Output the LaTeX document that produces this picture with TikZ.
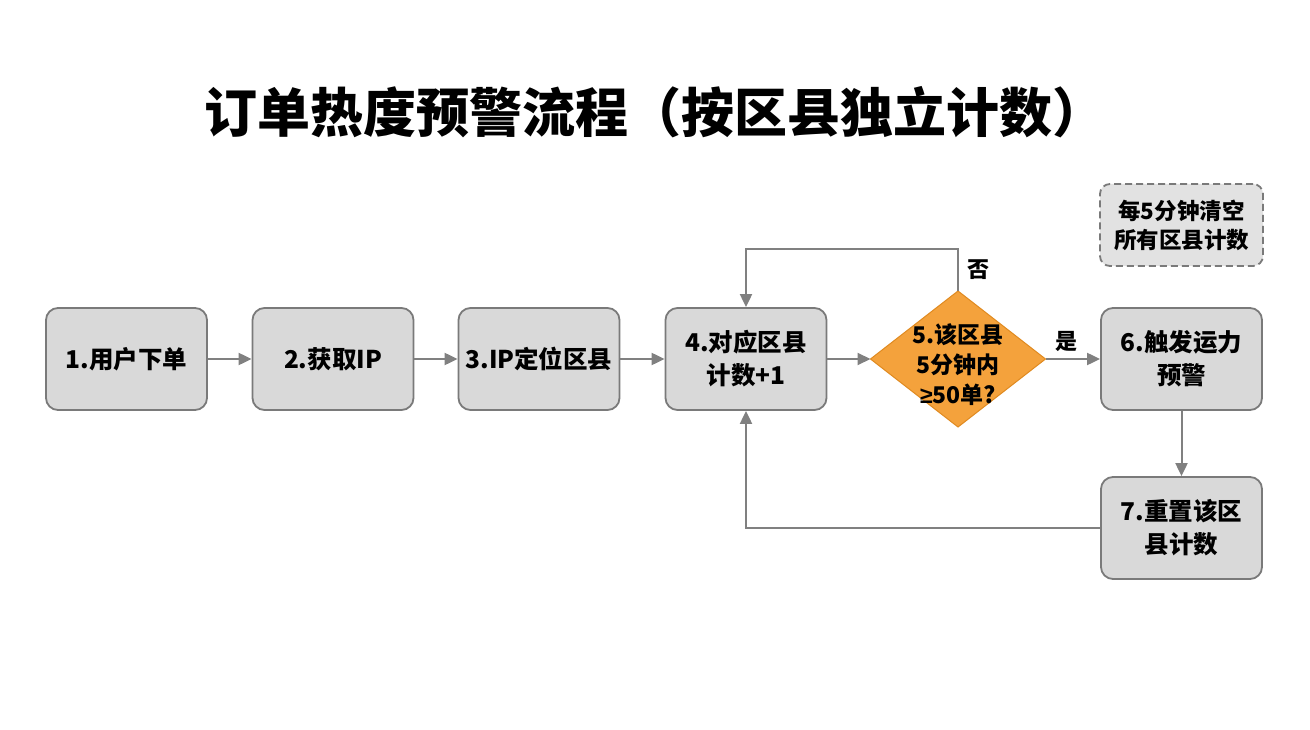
\documentclass[tikz,border=0pt]{standalone}
\usepackage{fontspec}
\setmainfont{Noto Sans CJK SC}
\newfontfamily\symfont{Liberation Sans}
\usetikzlibrary{shapes.geometric,arrows.meta}
\definecolor{boxfill}{HTML}{D9D9D9}
\definecolor{boxline}{HTML}{7A7A7A}
\definecolor{arrowc}{HTML}{808080}
\definecolor{diafill}{HTML}{F4A23C}
\definecolor{dialine}{HTML}{E08A20}
\definecolor{notefill}{HTML}{E2E2E2}
\tikzset{
  stepbox/.style={draw=boxline, fill=boxfill, line width=1.8pt, rounded corners=12pt,
    minimum width=161pt, minimum height=102pt, align=center,
    font=\fontsize{24.5}{33}\selectfont\bfseries, inner sep=2pt},
  decide/.style={diamond, draw=dialine, fill=diafill, line width=1pt, aspect=1.28,
    minimum width=175pt, minimum height=136pt, inner sep=0pt, outer sep=0pt},
  decidetext/.style={align=center, inner sep=0pt, font=\fontsize{23}{30}\selectfont\bfseries},
  notebox/.style={draw=boxline, fill=notefill, line width=1.8pt, dashed, dash pattern=on 7pt off 4pt,
    rounded corners=10pt, minimum width=163pt, minimum height=82pt, align=center,
    font=\fontsize{22.5}{29}\selectfont\bfseries},
  conn/.style={draw=arrowc, line width=2pt, -{Triangle[length=13pt,width=12pt]}},
  lbl/.style={font=\fontsize{22}{24}\selectfont\bfseries}
}
\begin{document}
\begin{tikzpicture}[x=1pt,y=-1pt]
\useasboundingbox[fill=white] (0,0) rectangle (1310,730);
\node[font=\fontsize{53}{58}\selectfont\bfseries] (title) at (655,112) {订单热度预警流程（按区县独立计数）};
\node[stepbox] (s1) at (126.5,359) {1.用户下单};
\node[stepbox] (s2) at (333,359) {2.获取IP};
\node[stepbox] (s3) at (539,359) {3.IP定位区县};
\node[stepbox] (s4) at (746,359) {4.对应区县\\计数+1};
\node[decide] (s5) at (958,359) {};
\node[decidetext] (s5t) at (958,365) {5.该区县\\5分钟内\\{\symfont ≥}50单?};
\node[stepbox] (s6) at (1181.5,359) {6.触发运力\\预警};
\node[stepbox] (s7) at (1181.5,528) {7.重置该区\\县计数};
\node[notebox] (note) at (1181.5,225) {每5分钟清空\\所有区县计数};
\draw[conn] (s1) -- (s2);
\draw[conn] (s2) -- (s3);
\draw[conn] (s3) -- (s4);
\draw[conn] (s4) -- (s5);
\draw[conn] (s5) -- (s6);
\node[lbl] (yes) at (1066,341) {是};
\draw[conn] (s5.north) |- (746,249) coordinate (ltop) -- (s4.north);
\node[lbl] (no) at (978,270) {否};
\draw[conn] (s6) -- (s7);
\draw[conn] (s7.west) -| (s4.south);
\end{tikzpicture}
\end{document}
